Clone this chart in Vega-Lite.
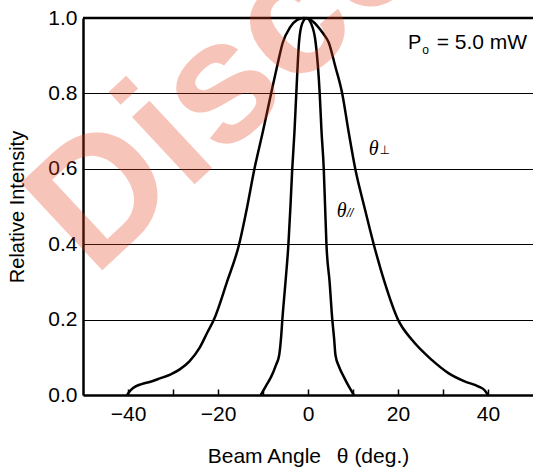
{
  "$schema": "https://vega.github.io/schema/vega-lite/v6.json",
  "width": 450,
  "height": 377,
  "autosize": {"type": "none"},
  "padding": {"left": 83, "top": 18, "right": 0, "bottom": 74},
  "background": "white",
  "config": {
    "view": {"stroke": null},
    "font": "Liberation Sans",
    "axis": {"labelFont": "Liberation Sans", "titleFont": "Liberation Sans", "labelColor": "black", "titleColor": "black", "titleFontWeight": "normal", "labelFontSize": 21, "titleFontSize": 21}
  },
  "datasets": {
    "curves": [
      {"series": "perp", "angle": -40.2, "intensity": 0.0},
      {"series": "perp", "angle": -39.4, "intensity": 0.013},
      {"series": "perp", "angle": -38.3, "intensity": 0.023},
      {"series": "perp", "angle": -37.0, "intensity": 0.029},
      {"series": "perp", "angle": -35.0, "intensity": 0.035},
      {"series": "perp", "angle": -32.9, "intensity": 0.044},
      {"series": "perp", "angle": -30.5, "intensity": 0.055},
      {"series": "perp", "angle": -28.5, "intensity": 0.068},
      {"series": "perp", "angle": -26.3, "intensity": 0.09},
      {"series": "perp", "angle": -24.1, "intensity": 0.125},
      {"series": "perp", "angle": -22.4, "intensity": 0.165},
      {"series": "perp", "angle": -20.9, "intensity": 0.2},
      {"series": "perp", "angle": -18.0, "intensity": 0.3},
      {"series": "perp", "angle": -15.3, "intensity": 0.4},
      {"series": "perp", "angle": -13.5, "intensity": 0.5},
      {"series": "perp", "angle": -11.9, "intensity": 0.6},
      {"series": "perp", "angle": -10.0, "intensity": 0.7},
      {"series": "perp", "angle": -8.2, "intensity": 0.8},
      {"series": "perp", "angle": -6.9, "intensity": 0.87},
      {"series": "perp", "angle": -5.6, "intensity": 0.935},
      {"series": "perp", "angle": -4.0, "intensity": 0.975},
      {"series": "perp", "angle": -2.4, "intensity": 0.995},
      {"series": "perp", "angle": -0.9, "intensity": 1.0},
      {"series": "perp", "angle": 0.6, "intensity": 0.995},
      {"series": "perp", "angle": 2.0, "intensity": 0.98},
      {"series": "perp", "angle": 3.3, "intensity": 0.96},
      {"series": "perp", "angle": 4.6, "intensity": 0.935},
      {"series": "perp", "angle": 6.1, "intensity": 0.87},
      {"series": "perp", "angle": 7.6, "intensity": 0.8},
      {"series": "perp", "angle": 9.0, "intensity": 0.7},
      {"series": "perp", "angle": 10.5, "intensity": 0.6},
      {"series": "perp", "angle": 12.5, "intensity": 0.5},
      {"series": "perp", "angle": 14.6, "intensity": 0.4},
      {"series": "perp", "angle": 17.0, "intensity": 0.3},
      {"series": "perp", "angle": 20.0, "intensity": 0.2},
      {"series": "perp", "angle": 23.2, "intensity": 0.145},
      {"series": "perp", "angle": 27.5, "intensity": 0.093},
      {"series": "perp", "angle": 31.2, "intensity": 0.058},
      {"series": "perp", "angle": 34.8, "intensity": 0.036},
      {"series": "perp", "angle": 37.8, "intensity": 0.023},
      {"series": "perp", "angle": 39.3, "intensity": 0.012},
      {"series": "perp", "angle": 40.0, "intensity": 0.0},
      {"series": "para", "angle": -10.5, "intensity": 0.0},
      {"series": "para", "angle": -9.3, "intensity": 0.025},
      {"series": "para", "angle": -8.2, "intensity": 0.048},
      {"series": "para", "angle": -7.1, "intensity": 0.08},
      {"series": "para", "angle": -6.4, "intensity": 0.106},
      {"series": "para", "angle": -6.0, "intensity": 0.15},
      {"series": "para", "angle": -5.7, "intensity": 0.2},
      {"series": "para", "angle": -5.0, "intensity": 0.3},
      {"series": "para", "angle": -4.35, "intensity": 0.4},
      {"series": "para", "angle": -3.9, "intensity": 0.5},
      {"series": "para", "angle": -3.5, "intensity": 0.6},
      {"series": "para", "angle": -3.0, "intensity": 0.7},
      {"series": "para", "angle": -2.6, "intensity": 0.8},
      {"series": "para", "angle": -2.0, "intensity": 0.935},
      {"series": "para", "angle": -1.3, "intensity": 0.985},
      {"series": "para", "angle": -0.3, "intensity": 1.0},
      {"series": "para", "angle": 0.7, "intensity": 0.985},
      {"series": "para", "angle": 1.7, "intensity": 0.935},
      {"series": "para", "angle": 2.6, "intensity": 0.8},
      {"series": "para", "angle": 3.0, "intensity": 0.7},
      {"series": "para", "angle": 3.5, "intensity": 0.6},
      {"series": "para", "angle": 3.8, "intensity": 0.5},
      {"series": "para", "angle": 4.1, "intensity": 0.4},
      {"series": "para", "angle": 4.8, "intensity": 0.3},
      {"series": "para", "angle": 5.4, "intensity": 0.2},
      {"series": "para", "angle": 5.8, "intensity": 0.15},
      {"series": "para", "angle": 6.1, "intensity": 0.106},
      {"series": "para", "angle": 6.9, "intensity": 0.075},
      {"series": "para", "angle": 7.96, "intensity": 0.048},
      {"series": "para", "angle": 9.1, "intensity": 0.022},
      {"series": "para", "angle": 10.2, "intensity": 0.0}
    ]
  },
  "layer": [
    {
      "data": {"name": "curves"},
      "mark": {"type": "line", "color": "black", "strokeWidth": 2.5, "interpolate": "monotone"},
      "encoding": {
        "x": {
          "field": "angle", "type": "quantitative",
          "scale": {"domain": [-50, 50], "nice": false, "zero": false},
          "axis": {
            "title": "Beam Angle\u00a0\u00a0\u2009θ (deg.)",
            "values": [-40, -30, -20, -10, 0, 10, 20, 30, 40],
            "labelExpr": "datum.value % 20 == 0 ? datum.label : ''",
            "grid": false,
            "domainColor": "black", "domainWidth": 2.5,
            "tickColor": "black", "tickWidth": 1.5, "tickSize": -6,
            "labelPadding": 14, "titlePadding": 21, "labelFlush": false
          }
        },
        "y": {
          "field": "intensity", "type": "quantitative",
          "scale": {"domain": [0, 1], "nice": false},
          "axis": {
            "title": "Relative Intensity",
            "titleFontSize": 20,
            "values": [0, 0.2, 0.4, 0.6, 0.8, 1.0],
            "format": ".1f",
            "grid": true, "gridColor": "black", "gridWidth": 1.2, "gridOpacity": 1,
            "ticks": false,
            "domainColor": "black", "domainWidth": 2.5,
            "labelPadding": 6, "titlePadding": 20
          }
        },
        "detail": {"field": "series", "type": "nominal"}
      }
    },
    {
      "data": {"values": [{"intensity": 1.0}]},
      "mark": {"type": "rule", "color": "black", "strokeWidth": 2.5},
      "encoding": {"y": {"field": "intensity", "type": "quantitative"}}
    },
    {
      "data": {"values": [{"t": "P", "angle": 25.2, "intensity": 0.917}]},
      "mark": {"type": "text", "align": "right", "baseline": "alphabetic", "fontSize": 20, "color": "black", "font": "Liberation Sans"},
      "encoding": {"x": {"field": "angle", "type": "quantitative"}, "y": {"field": "intensity", "type": "quantitative"}, "text": {"field": "t"}}
    },
    {
      "data": {"values": [{"t": "o", "angle": 25.4, "intensity": 0.905}]},
      "mark": {"type": "text", "align": "left", "baseline": "alphabetic", "fontSize": 12, "color": "black", "font": "Liberation Sans"},
      "encoding": {"x": {"field": "angle", "type": "quantitative"}, "y": {"field": "intensity", "type": "quantitative"}, "text": {"field": "t"}}
    },
    {
      "data": {"values": [{"t": "= 5.0 mW", "angle": 48.7, "intensity": 0.917}]},
      "mark": {"type": "text", "align": "right", "baseline": "alphabetic", "fontSize": 21, "color": "black", "font": "Liberation Sans"},
      "encoding": {"x": {"field": "angle", "type": "quantitative"}, "y": {"field": "intensity", "type": "quantitative"}, "text": {"field": "t"}}
    },
    {
      "data": {"values": [{"t": "θ", "angle": 13.5, "intensity": 0.637}, {"t": "θ", "angle": 6.4, "intensity": 0.472}]},
      "mark": {"type": "text", "align": "left", "baseline": "alphabetic", "fontSize": 20, "fontStyle": "italic", "color": "black", "font": "Liberation Serif"},
      "encoding": {"x": {"field": "angle", "type": "quantitative"}, "y": {"field": "intensity", "type": "quantitative"}, "text": {"field": "t"}}
    },
    {
      "data": {"values": [{"t": "⊥", "angle": 15.9, "intensity": 0.639}]},
      "mark": {"type": "text", "align": "left", "baseline": "alphabetic", "fontSize": 12, "color": "black", "font": "DejaVu Sans"},
      "encoding": {"x": {"field": "angle", "type": "quantitative"}, "y": {"field": "intensity", "type": "quantitative"}, "text": {"field": "t"}}
    },
    {
      "data": {"values": [{"t": "//", "angle": 8.6, "intensity": 0.472}]},
      "mark": {"type": "text", "align": "left", "baseline": "alphabetic", "fontSize": 12, "fontStyle": "italic", "color": "black", "font": "Liberation Sans"},
      "encoding": {"x": {"field": "angle", "type": "quantitative"}, "y": {"field": "intensity", "type": "quantitative"}, "text": {"field": "t"}}
    },
    {
      "data": {"values": [{"t": "Discontinued", "angle": -47.6, "intensity": 0.31}]},
      "mark": {"type": "text", "align": "left", "baseline": "alphabetic", "fontSize": 174, "fontWeight": "bold", "angle": -43, "color": "#e8401c", "opacity": 0.3, "font": "Liberation Sans"},
      "encoding": {"x": {"field": "angle", "type": "quantitative"}, "y": {"field": "intensity", "type": "quantitative"}, "text": {"field": "t"}}
    }
  ]
}
